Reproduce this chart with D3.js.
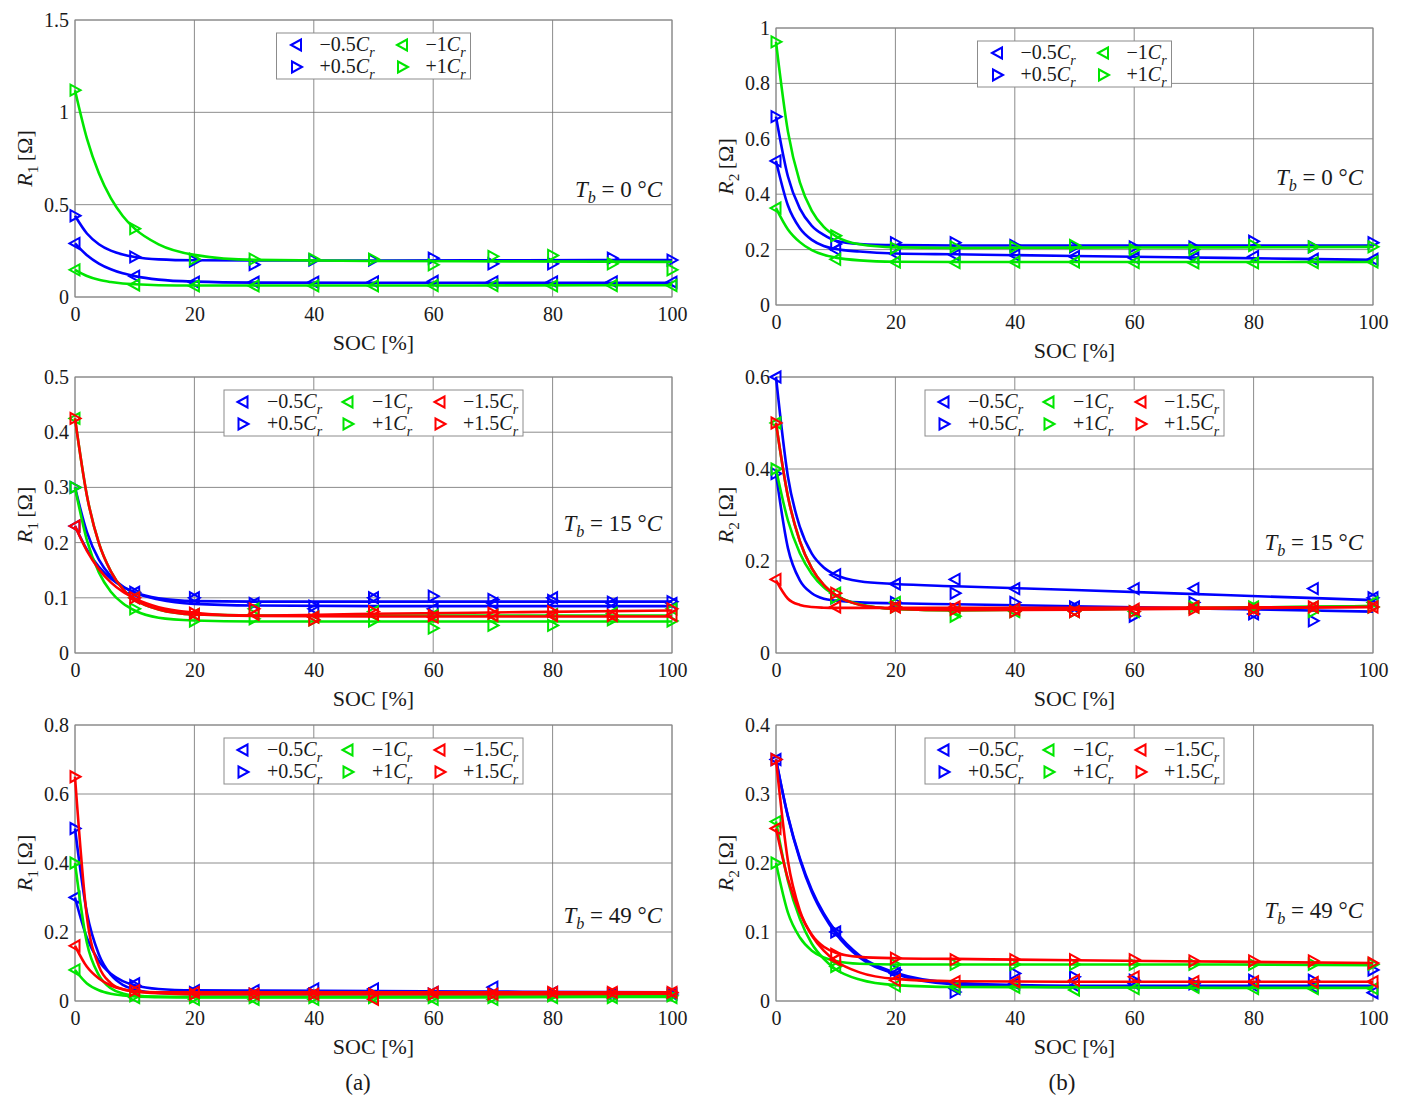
<!DOCTYPE html>
<html>
<head>
<meta charset="utf-8">
<script src="https://cdn.jsdelivr.net/npm/d3@7"></script>
<style>
  body { margin: 0; background: #fff; }
  svg, svg text { font-family: "Liberation Serif", "DejaVu Serif", serif; }
  text { fill: #1a1a1a; }
</style>
</head>
<body>
<svg id="fig" width="1404" height="1097"></svg>
<script>
// ---------- measured points (SOC grid) and fitted curves (FIT_SOC grid) ----------
const SOC = [0, 10, 20, 30, 40, 50, 60, 70, 80, 90, 100];
const FIT_SOC = [0, 2, 4, 6, 8, 10, 14, 20, 30, 50, 75, 100];

// R1 at 0 °C
const r1T0_m05_pts = [0.29, 0.113, 0.08, 0.08, 0.08, 0.082, 0.085, 0.082, 0.082, 0.082, 0.08];
const r1T0_p05_pts = [0.44, 0.217, 0.195, 0.175, 0.20, 0.20, 0.21, 0.18, 0.18, 0.21, 0.20];
const r1T0_m1_pts  = [0.147, 0.065, 0.06, 0.06, 0.06, 0.06, 0.062, 0.062, 0.06, 0.062, 0.062];
const r1T0_p1_pts  = [1.12, 0.37, 0.205, 0.205, 0.205, 0.205, 0.174, 0.22, 0.225, 0.18, 0.147];
const r1T0_m05_fit = [0.29, 0.226, 0.181, 0.150, 0.128, 0.113, 0.094, 0.083, 0.078, 0.077, 0.077, 0.077];
const r1T0_p05_fit = [0.44, 0.344, 0.286, 0.251, 0.230, 0.217, 0.204, 0.199, 0.198, 0.198, 0.199, 0.200];
const r1T0_m1_fit  = [0.147, 0.114, 0.093, 0.081, 0.073, 0.069, 0.064, 0.062, 0.062, 0.062, 0.063, 0.064];
const r1T0_p1_fit  = [1.12, 0.858, 0.67, 0.535, 0.439, 0.37, 0.285, 0.228, 0.201, 0.195, 0.193, 0.19];

// R2 at 0 °C
const r2T0_m05_pts = [0.52, 0.20, 0.185, 0.18, 0.18, 0.175, 0.17, 0.17, 0.175, 0.165, 0.165];
const r2T0_p05_pts = [0.68, 0.22, 0.225, 0.225, 0.215, 0.21, 0.21, 0.21, 0.23, 0.21, 0.225];
const r2T0_m1_pts  = [0.35, 0.165, 0.155, 0.153, 0.155, 0.155, 0.153, 0.152, 0.152, 0.153, 0.155];
const r2T0_p1_pts  = [0.95, 0.25, 0.205, 0.21, 0.21, 0.215, 0.20, 0.20, 0.215, 0.21, 0.21];
const r2T0_m05_fit = [0.52, 0.359, 0.277, 0.235, 0.213, 0.202, 0.193, 0.186, 0.183, 0.177, 0.170, 0.163];
const r2T0_p05_fit = [0.68, 0.464, 0.348, 0.286, 0.253, 0.232, 0.220, 0.216, 0.215, 0.215, 0.215, 0.215];
const r2T0_m1_fit  = [0.35, 0.273, 0.227, 0.198, 0.181, 0.171, 0.161, 0.156, 0.155, 0.155, 0.155, 0.155];
const r2T0_p1_fit  = [0.95, 0.626, 0.443, 0.34, 0.282, 0.249, 0.219, 0.208, 0.206, 0.207, 0.208, 0.21];

// R1 at 15 °C
const r1T15_m05_pts = [0.23, 0.11, 0.10, 0.09, 0.08, 0.10, 0.08, 0.09, 0.10, 0.09, 0.09];
const r1T15_p05_pts = [0.30, 0.11, 0.10, 0.09, 0.085, 0.10, 0.103, 0.097, 0.095, 0.092, 0.093];
const r1T15_m1_pts  = [0.425, 0.10, 0.07, 0.08, 0.065, 0.075, 0.068, 0.068, 0.07, 0.072, 0.08];
const r1T15_p1_pts  = [0.30, 0.08, 0.058, 0.062, 0.06, 0.058, 0.045, 0.05, 0.05, 0.06, 0.058];
const r1T15_m15_pts = [0.23, 0.10, 0.07, 0.07, 0.065, 0.07, 0.065, 0.068, 0.068, 0.068, 0.068];
const r1T15_p15_pts = [0.425, 0.10, 0.072, 0.08, 0.06, 0.075, 0.068, 0.072, 0.075, 0.068, 0.08];
const r1T15_m05_fit = [0.23, 0.187, 0.156, 0.135, 0.120, 0.109, 0.097, 0.089, 0.086, 0.085, 0.085, 0.085];
const r1T15_p05_fit = [0.30, 0.219, 0.169, 0.139, 0.121, 0.110, 0.099, 0.094, 0.093, 0.093, 0.093, 0.093];
const r1T15_m1_fit  = [0.425, 0.285, 0.199, 0.148, 0.116, 0.097, 0.079, 0.070, 0.068, 0.068, 0.068, 0.068];
const r1T15_p1_fit  = [0.30, 0.204, 0.146, 0.111, 0.090, 0.077, 0.064, 0.059, 0.057, 0.057, 0.057, 0.057];
const r1T15_m15_fit = [0.23, 0.185, 0.152, 0.128, 0.111, 0.099, 0.083, 0.073, 0.067, 0.066, 0.066, 0.066];
const r1T15_p15_fit = [0.425, 0.285, 0.199, 0.148, 0.116, 0.097, 0.079, 0.070, 0.068, 0.071, 0.074, 0.077];

// R2 at 15 °C
const r2T15_m05_pts = [0.60, 0.17, 0.15, 0.16, 0.14, 0.10, 0.14, 0.14, 0.085, 0.14, 0.12];
const r2T15_p05_pts = [0.39, 0.12, 0.11, 0.13, 0.11, 0.10, 0.08, 0.11, 0.085, 0.07, 0.12];
const r2T15_m1_pts  = [0.50, 0.13, 0.11, 0.09, 0.09, 0.09, 0.09, 0.10, 0.10, 0.10, 0.11];
const r2T15_p1_pts  = [0.40, 0.12, 0.10, 0.08, 0.09, 0.09, 0.09, 0.10, 0.10, 0.09, 0.10];
const r2T15_m15_pts = [0.16, 0.10, 0.10, 0.10, 0.095, 0.09, 0.095, 0.10, 0.095, 0.10, 0.10];
const r2T15_p15_pts = [0.50, 0.13, 0.10, 0.095, 0.09, 0.09, 0.09, 0.095, 0.095, 0.10, 0.10];
const r2T15_m05_fit = [0.60, 0.383, 0.274, 0.216, 0.186, 0.170, 0.156, 0.150, 0.145, 0.137, 0.126, 0.115];
const r2T15_p05_fit = [0.39, 0.228, 0.158, 0.130, 0.118, 0.114, 0.110, 0.108, 0.106, 0.1015, 0.096, 0.090];
const r2T15_m1_fit  = [0.50, 0.340, 0.243, 0.184, 0.148, 0.126, 0.105, 0.096, 0.093, 0.095, 0.098, 0.102];
const r2T15_p1_fit  = [0.40, 0.288, 0.217, 0.172, 0.143, 0.125, 0.106, 0.096, 0.093, 0.095, 0.098, 0.102];
const r2T15_m15_fit = [0.158, 0.118, 0.1045, 0.100, 0.0985, 0.098, 0.098, 0.098, 0.098, 0.098, 0.099, 0.100];
const r2T15_p15_fit = [0.50, 0.340, 0.243, 0.184, 0.148, 0.126, 0.105, 0.096, 0.093, 0.094, 0.097, 0.100];

// R1 at 49 °C
const r1T49_m05_pts = [0.30, 0.05, 0.03, 0.03, 0.035, 0.035, 0.025, 0.04, 0.025, 0.02, 0.02];
const r1T49_p05_pts = [0.50, 0.045, 0.025, 0.02, 0.02, 0.02, 0.02, 0.02, 0.02, 0.02, 0.02];
const r1T49_m1_pts  = [0.09, 0.01, 0.005, 0.005, 0.005, 0.01, 0.005, 0.005, 0.01, 0.01, 0.01];
const r1T49_p1_pts  = [0.40, 0.015, 0.01, 0.01, 0.01, 0.01, 0.01, 0.01, 0.015, 0.01, 0.015];
const r1T49_m15_pts = [0.16, 0.03, 0.025, 0.02, 0.02, 0.005, 0.025, 0.02, 0.025, 0.025, 0.025];
const r1T49_p15_pts = [0.65, 0.03, 0.02, 0.02, 0.02, 0.02, 0.02, 0.02, 0.025, 0.025, 0.025];
const r1T49_m05_fit = [0.30, 0.183, 0.116, 0.079, 0.0575, 0.046, 0.035, 0.031, 0.030, 0.029, 0.027, 0.025];
const r1T49_p05_fit = [0.50, 0.255, 0.135, 0.076, 0.047, 0.0335, 0.023, 0.020, 0.020, 0.020, 0.020, 0.020];
const r1T49_m1_fit  = [0.09, 0.051, 0.031, 0.021, 0.016, 0.013, 0.011, 0.010, 0.010, 0.010, 0.011, 0.012];
const r1T49_p1_fit  = [0.40, 0.168, 0.075, 0.037, 0.022, 0.016, 0.013, 0.012, 0.012, 0.012, 0.013, 0.014];
const r1T49_m15_fit = [0.16, 0.099, 0.065, 0.045, 0.034, 0.028, 0.0225, 0.020, 0.020, 0.020, 0.020, 0.021];
const r1T49_p15_fit = [0.65, 0.243, 0.101, 0.052, 0.034, 0.028, 0.025, 0.025, 0.025, 0.025, 0.025, 0.025];

// R2 at 49 °C
const r2T49_m05_pts = [0.35, 0.10, 0.04, 0.018, 0.025, 0.022, 0.025, 0.022, 0.022, 0.02, 0.012];
const r2T49_p05_pts = [0.35, 0.10, 0.045, 0.013, 0.04, 0.035, 0.03, 0.025, 0.03, 0.03, 0.045];
const r2T49_m1_pts  = [0.26, 0.05, 0.022, 0.02, 0.02, 0.016, 0.018, 0.02, 0.018, 0.018, 0.018];
const r2T49_p1_pts  = [0.20, 0.05, 0.053, 0.053, 0.053, 0.053, 0.053, 0.053, 0.053, 0.053, 0.053];
const r2T49_m15_pts = [0.25, 0.06, 0.03, 0.028, 0.028, 0.03, 0.035, 0.028, 0.028, 0.027, 0.028];
const r2T49_p15_pts = [0.35, 0.068, 0.062, 0.06, 0.06, 0.06, 0.06, 0.058, 0.058, 0.058, 0.055];
const r2T49_m05_fit = [0.35, 0.267, 0.205, 0.158, 0.124, 0.098, 0.063, 0.039, 0.024, 0.020, 0.020, 0.020];
const r2T49_p05_fit = [0.35, 0.268, 0.207, 0.161, 0.127, 0.101, 0.066, 0.041, 0.0265, 0.022, 0.022, 0.022];
const r2T49_m1_fit  = [0.26, 0.174, 0.119, 0.083, 0.061, 0.046, 0.031, 0.023, 0.0203, 0.020, 0.019, 0.019];
const r2T49_p1_fit  = [0.20, 0.128, 0.092, 0.073, 0.063, 0.058, 0.054, 0.053, 0.053, 0.053, 0.053, 0.052];
const r2T49_m15_fit = [0.25, 0.177, 0.128, 0.095, 0.073, 0.058, 0.0415, 0.032, 0.0286, 0.028, 0.028, 0.028];
const r2T49_p15_fit = [0.35, 0.203, 0.131, 0.096, 0.0785, 0.070, 0.064, 0.062, 0.061, 0.059, 0.057, 0.055];

// axis ticks
const X_TICKS = [0, 20, 40, 60, 80, 100];
const Y_TICKS_R1T0  = [0, 0.5, 1, 1.5];
const Y_TICKS_R2T0  = [0, 0.2, 0.4, 0.6, 0.8, 1];
const Y_TICKS_R1T15 = [0, 0.1, 0.2, 0.3, 0.4, 0.5];
const Y_TICKS_R2T15 = [0, 0.2, 0.4, 0.6];
const Y_TICKS_R1T49 = [0, 0.2, 0.4, 0.6, 0.8];
const Y_TICKS_R2T49 = [0, 0.1, 0.2, 0.3, 0.4];

// current rates: sign gives marker direction, magnitude gives colour
const RATE_LABELS = ["\u22120.5", "+0.5", "\u22121", "+1", "\u22121.5", "+1.5"];
const RATE_KEYS   = ["m05", "p05", "m1", "p1", "m15", "p15"];

// ---------- styling ----------
const FONT = "'Liberation Serif', 'DejaVu Serif', serif";
const COLOR = { m05: "#0000ff", p05: "#0000ff", m1: "#00e600", p1: "#00e600", m15: "#ff0000", p15: "#ff0000" };
const POINTS_LEFT = { m05: true, m1: true, m15: true, p05: false, p1: false, p15: false };

// panel layout (pixel frames of the six plot areas)
const PANELS = [
  { key: "r1T0",  ticks: Y_TICKS_R1T0,  sub: "1", temp: "0",  rates: 4, x0: 75,  x1: 672,  y0: 20,  y1: 297,  noteDy: 177 },
  { key: "r2T0",  ticks: Y_TICKS_R2T0,  sub: "2", temp: "0",  rates: 4, x0: 776, x1: 1373, y0: 28,  y1: 305,  noteDy: 157 },
  { key: "r1T15", ticks: Y_TICKS_R1T15, sub: "1", temp: "15", rates: 6, x0: 75,  x1: 672,  y0: 377, y1: 653,  noteDy: 154 },
  { key: "r2T15", ticks: Y_TICKS_R2T15, sub: "2", temp: "15", rates: 6, x0: 776, x1: 1373, y0: 377, y1: 653,  noteDy: 173 },
  { key: "r1T49", ticks: Y_TICKS_R1T49, sub: "1", temp: "49", rates: 6, x0: 75,  x1: 672,  y0: 725, y1: 1001, noteDy: 198 },
  { key: "r2T49", ticks: Y_TICKS_R2T49, sub: "2", temp: "49", rates: 6, x0: 776, x1: 1373, y0: 725, y1: 1001, noteDy: 193 }
];

const DATA = {
  r1T0_m05: [r1T0_m05_pts, r1T0_m05_fit], r1T0_p05: [r1T0_p05_pts, r1T0_p05_fit],
  r1T0_m1: [r1T0_m1_pts, r1T0_m1_fit],    r1T0_p1: [r1T0_p1_pts, r1T0_p1_fit],
  r2T0_m05: [r2T0_m05_pts, r2T0_m05_fit], r2T0_p05: [r2T0_p05_pts, r2T0_p05_fit],
  r2T0_m1: [r2T0_m1_pts, r2T0_m1_fit],    r2T0_p1: [r2T0_p1_pts, r2T0_p1_fit],
  r1T15_m05: [r1T15_m05_pts, r1T15_m05_fit], r1T15_p05: [r1T15_p05_pts, r1T15_p05_fit],
  r1T15_m1: [r1T15_m1_pts, r1T15_m1_fit],    r1T15_p1: [r1T15_p1_pts, r1T15_p1_fit],
  r1T15_m15: [r1T15_m15_pts, r1T15_m15_fit], r1T15_p15: [r1T15_p15_pts, r1T15_p15_fit],
  r2T15_m05: [r2T15_m05_pts, r2T15_m05_fit], r2T15_p05: [r2T15_p05_pts, r2T15_p05_fit],
  r2T15_m1: [r2T15_m1_pts, r2T15_m1_fit],    r2T15_p1: [r2T15_p1_pts, r2T15_p1_fit],
  r2T15_m15: [r2T15_m15_pts, r2T15_m15_fit], r2T15_p15: [r2T15_p15_pts, r2T15_p15_fit],
  r1T49_m05: [r1T49_m05_pts, r1T49_m05_fit], r1T49_p05: [r1T49_p05_pts, r1T49_p05_fit],
  r1T49_m1: [r1T49_m1_pts, r1T49_m1_fit],    r1T49_p1: [r1T49_p1_pts, r1T49_p1_fit],
  r1T49_m15: [r1T49_m15_pts, r1T49_m15_fit], r1T49_p15: [r1T49_p15_pts, r1T49_p15_fit],
  r2T49_m05: [r2T49_m05_pts, r2T49_m05_fit], r2T49_p05: [r2T49_p05_pts, r2T49_p05_fit],
  r2T49_m1: [r2T49_m1_pts, r2T49_m1_fit],    r2T49_p1: [r2T49_p1_pts, r2T49_p1_fit],
  r2T49_m15: [r2T49_m15_pts, r2T49_m15_fit], r2T49_p15: [r2T49_p15_pts, r2T49_p15_fit]
};

const svg = d3.select("#fig").attr("font-family", FONT);

// open triangle pointing left or right
function triPath(left) {
  return left ? "M-5.5,0L4.5,-5.5L4.5,5.5Z" : "M5.5,0L-4.5,-5.5L-4.5,5.5Z";
}

// text built from plain / italic / subscript runs
function rich(sel, parts, size) {
  let shift = 0;
  parts.forEach(p => {
    const ts = sel.append("tspan").text(p.t);
    const want = p.sub ? size * 0.28 : 0;
    if (want !== shift) { ts.attr("dy", want - shift); shift = want; }
    if (p.sub) ts.attr("font-size", size * 0.7);
    if (p.i) ts.attr("font-style", "italic");
  });
}

PANELS.forEach(P => {
  const ymax = P.ticks[P.ticks.length - 1];
  const x = d3.scaleLinear().domain([0, 100]).range([P.x0, P.x1]);
  const y = d3.scaleLinear().domain([0, ymax]).range([P.y1, P.y0]);
  const g = svg.append("g");

  // grid
  g.append("g").selectAll("line").data(X_TICKS).join("line")
    .attr("x1", d => x(d)).attr("x2", d => x(d)).attr("y1", P.y0).attr("y2", P.y1)
    .attr("stroke", "#6e6e6e").attr("stroke-width", 0.8);
  g.append("g").selectAll("line").data(P.ticks).join("line")
    .attr("x1", P.x0).attr("x2", P.x1).attr("y1", d => y(d)).attr("y2", d => y(d))
    .attr("stroke", "#6e6e6e").attr("stroke-width", 0.8);
  g.append("rect").attr("x", P.x0).attr("y", P.y0)
    .attr("width", P.x1 - P.x0).attr("height", P.y1 - P.y0)
    .attr("fill", "none").attr("stroke", "#8c8c8c").attr("stroke-width", 1);

  // axes (tick labels only; the frame is the rectangle above)
  const xAxis = d3.axisBottom(x).tickValues(X_TICKS).tickSize(0).tickPadding(10).tickFormat(d3.format("d"));
  g.append("g").attr("transform", `translate(0,${P.y1})`).call(xAxis)
    .attr("font-family", FONT).attr("font-size", 20)
    .call(a => a.select(".domain").remove())
    .selectAll("text").attr("fill", "#1a1a1a");
  const yAxis = d3.axisLeft(y).tickValues(P.ticks).tickSize(0).tickPadding(6).tickFormat(d => String(+d.toFixed(2)));
  g.append("g").attr("transform", `translate(${P.x0},0)`).call(yAxis)
    .attr("font-family", FONT).attr("font-size", 20)
    .call(a => a.select(".domain").remove())
    .selectAll("text").attr("fill", "#1a1a1a");

  // axis titles
  g.append("text").attr("x", (P.x0 + P.x1) / 2).attr("y", P.y1 + 53)
    .attr("text-anchor", "middle").attr("font-size", 22).text("SOC [%]");
  const yl = g.append("text")
    .attr("transform", `translate(${P.x0 - 43},${(P.y0 + P.y1) / 2}) rotate(-90)`)
    .attr("text-anchor", "middle").attr("font-size", 22);
  rich(yl, [{ t: "R", i: true }, { t: P.sub, sub: true }, { t: "\u2009[\u03a9]" }], 22);

  // series: points then fitted curve
  const line = d3.line().x(d => x(d[0])).y(d => y(d[1])).curve(d3.curveMonotoneX);
  const keys = RATE_KEYS.slice(0, P.rates);
  keys.forEach(k => {
    const [pts, fit] = DATA[P.key + "_" + k];
    g.append("g").selectAll("path").data(SOC.map((s, i) => [s, pts[i]])).join("path")
      .attr("transform", d => `translate(${x(d[0])},${y(d[1])})`)
      .attr("d", triPath(POINTS_LEFT[k]))
      .attr("fill", "none").attr("stroke", COLOR[k]).attr("stroke-width", 2)
      .attr("stroke-linejoin", "miter");
    g.append("path").datum(FIT_SOC.map((s, i) => [s, fit[i]]))
      .attr("d", line).attr("fill", "none").attr("stroke", COLOR[k])
      .attr("stroke-width", 2.6).attr("stroke-linejoin", "round");
  });

  // temperature note
  const note = g.append("text").attr("x", P.x1 - 10).attr("y", P.y0 + P.noteDy)
    .attr("text-anchor", "end").attr("font-size", 23);
  rich(note, [{ t: "T", i: true }, { t: "b", i: true, sub: true }, { t: " = " + P.temp + " \u00b0" }, { t: "C", i: true }], 23);

  // legend
  const cols = P.rates / 2;
  const lw = cols === 2 ? 194 : 299;
  const lx = (P.x0 + P.x1) / 2 - lw / 2;
  const ly = P.y0 + 13;
  const markX = cols === 2 ? [20, 126] : [19, 124, 216];
  const textX = cols === 2 ? [43, 149] : [43, 148, 239];
  const lg = g.append("g").attr("transform", `translate(${lx},${ly})`);
  lg.append("rect").attr("width", lw).attr("height", 46)
    .attr("fill", "#fff").attr("stroke", "#8c8c8c").attr("stroke-width", 1);
  keys.forEach((k, idx) => {
    const col = Math.floor(idx / 2), row = idx % 2;
    const cy = row === 0 ? 12 : 34;
    lg.append("path").attr("transform", `translate(${markX[col]},${cy})`)
      .attr("d", triPath(POINTS_LEFT[k])).attr("fill", "none")
      .attr("stroke", COLOR[k]).attr("stroke-width", 2);
    const t = lg.append("text").attr("x", textX[col]).attr("y", cy + 6).attr("font-size", 20);
    rich(t, [{ t: RATE_LABELS[idx] }, { t: "C", i: true }, { t: "r", i: true, sub: true }], 20);
  });
});

// sub-figure captions
svg.append("text").attr("x", 358).attr("y", 1090).attr("text-anchor", "middle").attr("font-size", 23).text("(a)");
svg.append("text").attr("x", 1062).attr("y", 1090).attr("text-anchor", "middle").attr("font-size", 23).text("(b)");
</script>
</body>
</html>
